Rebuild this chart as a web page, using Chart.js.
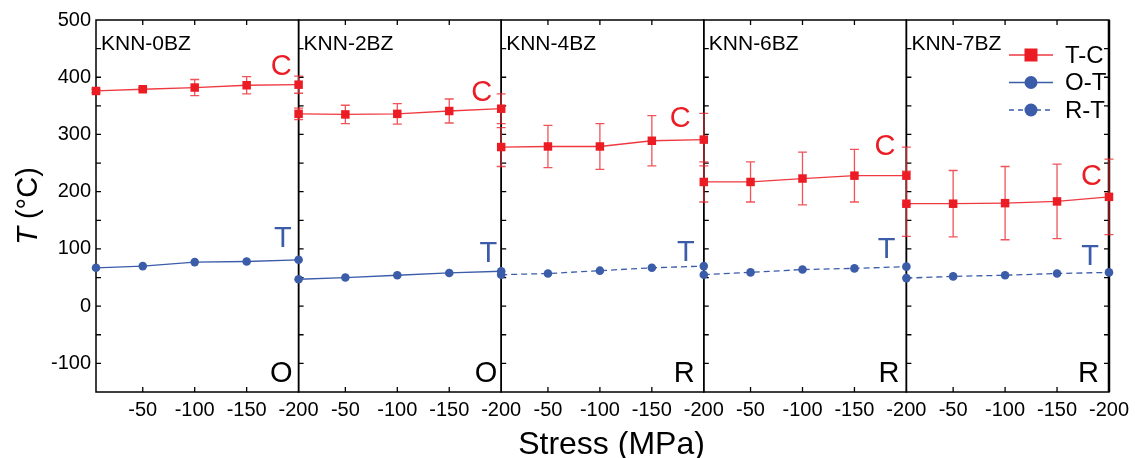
<!DOCTYPE html>
<html lang="en">
<head>
  <meta charset="UTF-8" />
  <title>Transition temperature vs stress</title>
  <script src="https://cdn.jsdelivr.net/npm/chart.js"></script>
  <style>
    html, body { margin: 0; padding: 0; background: #fff; }
    #chart { display: block; }
  </style>
</head>
<body>
  <canvas id="chart" width="1135" height="458"></canvas>

  <script>
    // ---- data ----
    const samples = ["KNN-0BZ", "KNN-2BZ", "KNN-4BZ", "KNN-6BZ", "KNN-7BZ"];
    const stress = [-5, -50, -100, -150, -200]; // MPa
    const xTicks = [-50, -100, -150, -200];
    const yTicks = [-100, 0, 100, 200, 300, 400, 500];

    // T-C transition (°C), one row per sample, with error half-widths
    const tcTemp = [
      [376, 379, 382, 386, 387],
      [336, 335, 336, 341, 345],
      [278, 279, 279, 289, 291],
      [217, 217, 223, 228, 228],
      [179, 179, 180, 183, 191]
    ];
    const tcErr = [
      [3, 3, 14, 15, 15],
      [10, 16, 18, 21, 26],
      [34, 37, 40, 44, 46],
      [35, 35, 46, 46, 50],
      [57, 58, 64, 65, 66]
    ];

    // lower transition (O-T or R-T)
    const lowTemp = [
      [67, 70, 77, 78, 81],
      [47, 50, 54, 58, 61],
      [55, 57, 62, 67, 70],
      [55, 59, 64, 66, 69],
      [49, 52, 54, 57, 59]
    ];
    const lowKind = ["O-T", "O-T", "R-T", "R-T", "R-T"];
    const lowPhase = ["O", "O", "R", "R", "R"];
    const legendLabels = ["T-C", "O-T", "R-T"];

    // ---- look ----
    const FONT = "'Liberation Sans', Arial, Helvetica, sans-serif";
    const RED = "#ec1c24";
    const RED_LINE = "#ef3940";
    const RED_ERR = "rgba(236, 40, 48, 0.8)";
    const BLUE = "#3b5ca9";

    // where the C / T / O,R letters sit (y in axis units, dx = px from panel right)
    const cLabelY = [404, 359, 313, 264, 212];
    const cLabelDx = [7, 9, 13, 11, 7];
    const tLabelY = [104, 78, 79, 85, 72];
    const tLabelDx = [7, 4, 9, 11, 10];
    const phaseDx = [6, 4, 9, 7, 10];

    const datasets = [];
    samples.forEach((s, i) => {
      datasets.push({
        label: "T-C",
        xAxisID: "x" + i,
        yAxisID: "y",
        data: stress.map((x, j) => ({ x: x, y: tcTemp[i][j] })),
        borderColor: RED_LINE,
        backgroundColor: RED,
        borderWidth: 1.3,
        pointStyle: "rect",
        pointRadius: 6,
        pointBorderWidth: 0,
        clip: false
      });
      datasets.push({
        label: lowKind[i],
        xAxisID: "x" + i,
        yAxisID: "y",
        data: stress.map((x, j) => ({ x: x, y: lowTemp[i][j] })),
        borderColor: BLUE,
        backgroundColor: BLUE,
        borderWidth: 1.3,
        borderDash: lowKind[i] === "R-T" ? [6, 4] : [],
        pointStyle: "circle",
        pointRadius: 4.3,
        pointBorderWidth: 0,
        clip: false
      });
    });

    const scales = {
      y: {
        position: "left",
        min: -150,
        max: 500,
        afterBuildTicks: s => { s.ticks = yTicks.map(v => ({ value: v })); },
        afterFit: s => { s.width = 96; },
        grid: { display: false, drawTicks: false },
        border: { display: false },
        ticks: { color: "#000", font: { family: FONT, size: 20 }, padding: 5 }
      }
    };
    samples.forEach((s, i) => {
      scales["x" + i] = {
        type: "linear",
        position: "bottom",
        stack: "panels",
        stackWeight: 1,
        min: -200,
        max: -5,
        reverse: true,
        afterBuildTicks: sc => { sc.ticks = xTicks.map(v => ({ value: v })); },
        afterFit: sc => { sc.height = 66; },
        grid: { display: false, drawTicks: false },
        border: { display: false },
        ticks: {
          autoSkip: false, maxRotation: 0, color: "#000",
          font: { family: FONT, size: 20 }, padding: 6
        }
      };
    });

    // frames, inward ticks, error bars, labels, legend
    const panelDecor = {
      id: "panelDecor",
      beforeDatasetsDraw(chart) {
        const { ctx, chartArea: a, scales: sc } = chart;
        const y = sc.y;
        ctx.save();

        // frames
        ctx.strokeStyle = "#000";
        ctx.lineWidth = 1.5;
        samples.forEach((s, i) => {
          const x = sc["x" + i];
          ctx.strokeRect(x.left, a.top, x.right - x.left, a.bottom - a.top);
        });
        ctx.lineWidth = 2.5;
        ctx.beginPath();
        ctx.moveTo(a.right, a.top);
        ctx.lineTo(a.right, a.bottom);
        ctx.stroke();

        // inward ticks
        ctx.lineWidth = 1.3;
        ctx.beginPath();
        samples.forEach((s, i) => {
          const x = sc["x" + i];
          for (let v = -150; v <= 500; v += 50) {
            const py = y.getPixelForValue(v);
            if (py <= a.top + 1 || py >= a.bottom - 1) continue;
            ctx.moveTo(x.left, py);
            ctx.lineTo(x.left + 5, py);
            if (i === samples.length - 1) {
              ctx.moveTo(x.right, py);
              ctx.lineTo(x.right - 5, py);
            }
          }
          xTicks.forEach(v => {
            if (v === -200) return;
            const px = x.getPixelForValue(v);
            ctx.moveTo(px, a.top);
            ctx.lineTo(px, a.top + 5);
            ctx.moveTo(px, a.bottom);
            ctx.lineTo(px, a.bottom - 5);
          });
        });
        ctx.stroke();

        // error bars on T-C
        ctx.strokeStyle = RED_ERR;
        ctx.lineWidth = 1.3;
        ctx.beginPath();
        samples.forEach((s, i) => {
          const x = sc["x" + i];
          stress.forEach((v, j) => {
            const e = tcErr[i][j];
            if (!e) return;
            const px = x.getPixelForValue(v);
            const y1 = y.getPixelForValue(tcTemp[i][j] + e);
            const y2 = y.getPixelForValue(tcTemp[i][j] - e);
            ctx.moveTo(px, y1); ctx.lineTo(px, y2);
            ctx.moveTo(px - 4.5, y1); ctx.lineTo(px + 4.5, y1);
            ctx.moveTo(px - 4.5, y2); ctx.lineTo(px + 4.5, y2);
          });
        });
        ctx.stroke();
        ctx.restore();
      },

      afterDatasetsDraw(chart) {
        const { ctx, chartArea: a, scales: sc } = chart;
        const y = sc.y;
        ctx.save();
        ctx.textBaseline = "alphabetic";
        samples.forEach((s, i) => {
          const x = sc["x" + i];
          ctx.fillStyle = "#000";
          ctx.textAlign = "left";
          ctx.font = "21px " + FONT;
          ctx.fillText(s, x.left + 5, a.top + 30);

          ctx.textAlign = "right";
          ctx.font = "29px " + FONT;
          ctx.fillStyle = RED;
          ctx.fillText("C", x.right - cLabelDx[i], y.getPixelForValue(cLabelY[i]));
          ctx.fillStyle = BLUE;
          ctx.fillText("T", x.right - tLabelDx[i], y.getPixelForValue(tLabelY[i]));
          ctx.fillStyle = "#000";
          ctx.fillText(lowPhase[i], x.right - phaseDx[i], a.bottom - 10);
        });

        // legend, top right of last panel
        const rows = [
          { color: RED, dash: [], shape: "rect" },
          { color: BLUE, dash: [], shape: "circle" },
          { color: BLUE, dash: [5, 4], shape: "circle" }
        ];
        ctx.font = "24px " + FONT;
        ctx.textAlign = "left";
        ctx.textBaseline = "middle";
        legendLabels.forEach((lab, k) => {
          const r = rows[k];
          const cy = a.top + 35 + k * 27.5;
          const x0 = a.right - 100, x1 = a.right - 56, cx = a.right - 78;
          ctx.strokeStyle = r.color === RED ? RED_LINE : r.color;
          ctx.lineWidth = 1.3;
          ctx.setLineDash(r.dash);
          ctx.beginPath();
          ctx.moveTo(x0, cy);
          ctx.lineTo(x1, cy);
          ctx.stroke();
          ctx.setLineDash([]);
          ctx.fillStyle = r.color;
          if (r.shape === "rect") {
            ctx.fillRect(cx - 6.5, cy - 6.5, 13, 13);
          } else {
            ctx.beginPath();
            ctx.arc(cx, cy, 6.5, 0, Math.PI * 2);
            ctx.fill();
          }
          ctx.fillStyle = "#000";
          ctx.fillText(lab, a.right - 44, cy + 1);
        });

        // axis titles
        ctx.fillStyle = "#000";
        ctx.textBaseline = "alphabetic";
        ctx.textAlign = "center";
        ctx.font = "32px " + FONT;
        ctx.fillText("Stress (MPa)", (a.left + a.right) / 2 + 9, 454);

        ctx.translate(37, (a.top + a.bottom) / 2);
        ctx.rotate(-Math.PI / 2);
        ctx.textAlign = "left";
        const fT = "italic 29px " + FONT, fR = "29px " + FONT;
        ctx.font = fT;
        const wT = ctx.measureText("T").width;
        ctx.font = fR;
        const wR = ctx.measureText(" (°C)").width;
        const start = -(wT + wR) / 2;
        ctx.font = fT;
        ctx.fillText("T", start, 0);
        ctx.font = fR;
        ctx.fillText(" (°C)", start + wT, 0);
        ctx.restore();
      }
    };

    new Chart(document.getElementById("chart"), {
      type: "line",
      data: { datasets: datasets },
      options: {
        responsive: false,
        animation: false,
        layout: { padding: { top: 20, right: 23, left: 0, bottom: 0 } },
        scales: scales,
        plugins: {
          legend: { display: false },
          tooltip: { enabled: false }
        }
      },
      plugins: [panelDecor]
    });
  </script>
</body>
</html>
